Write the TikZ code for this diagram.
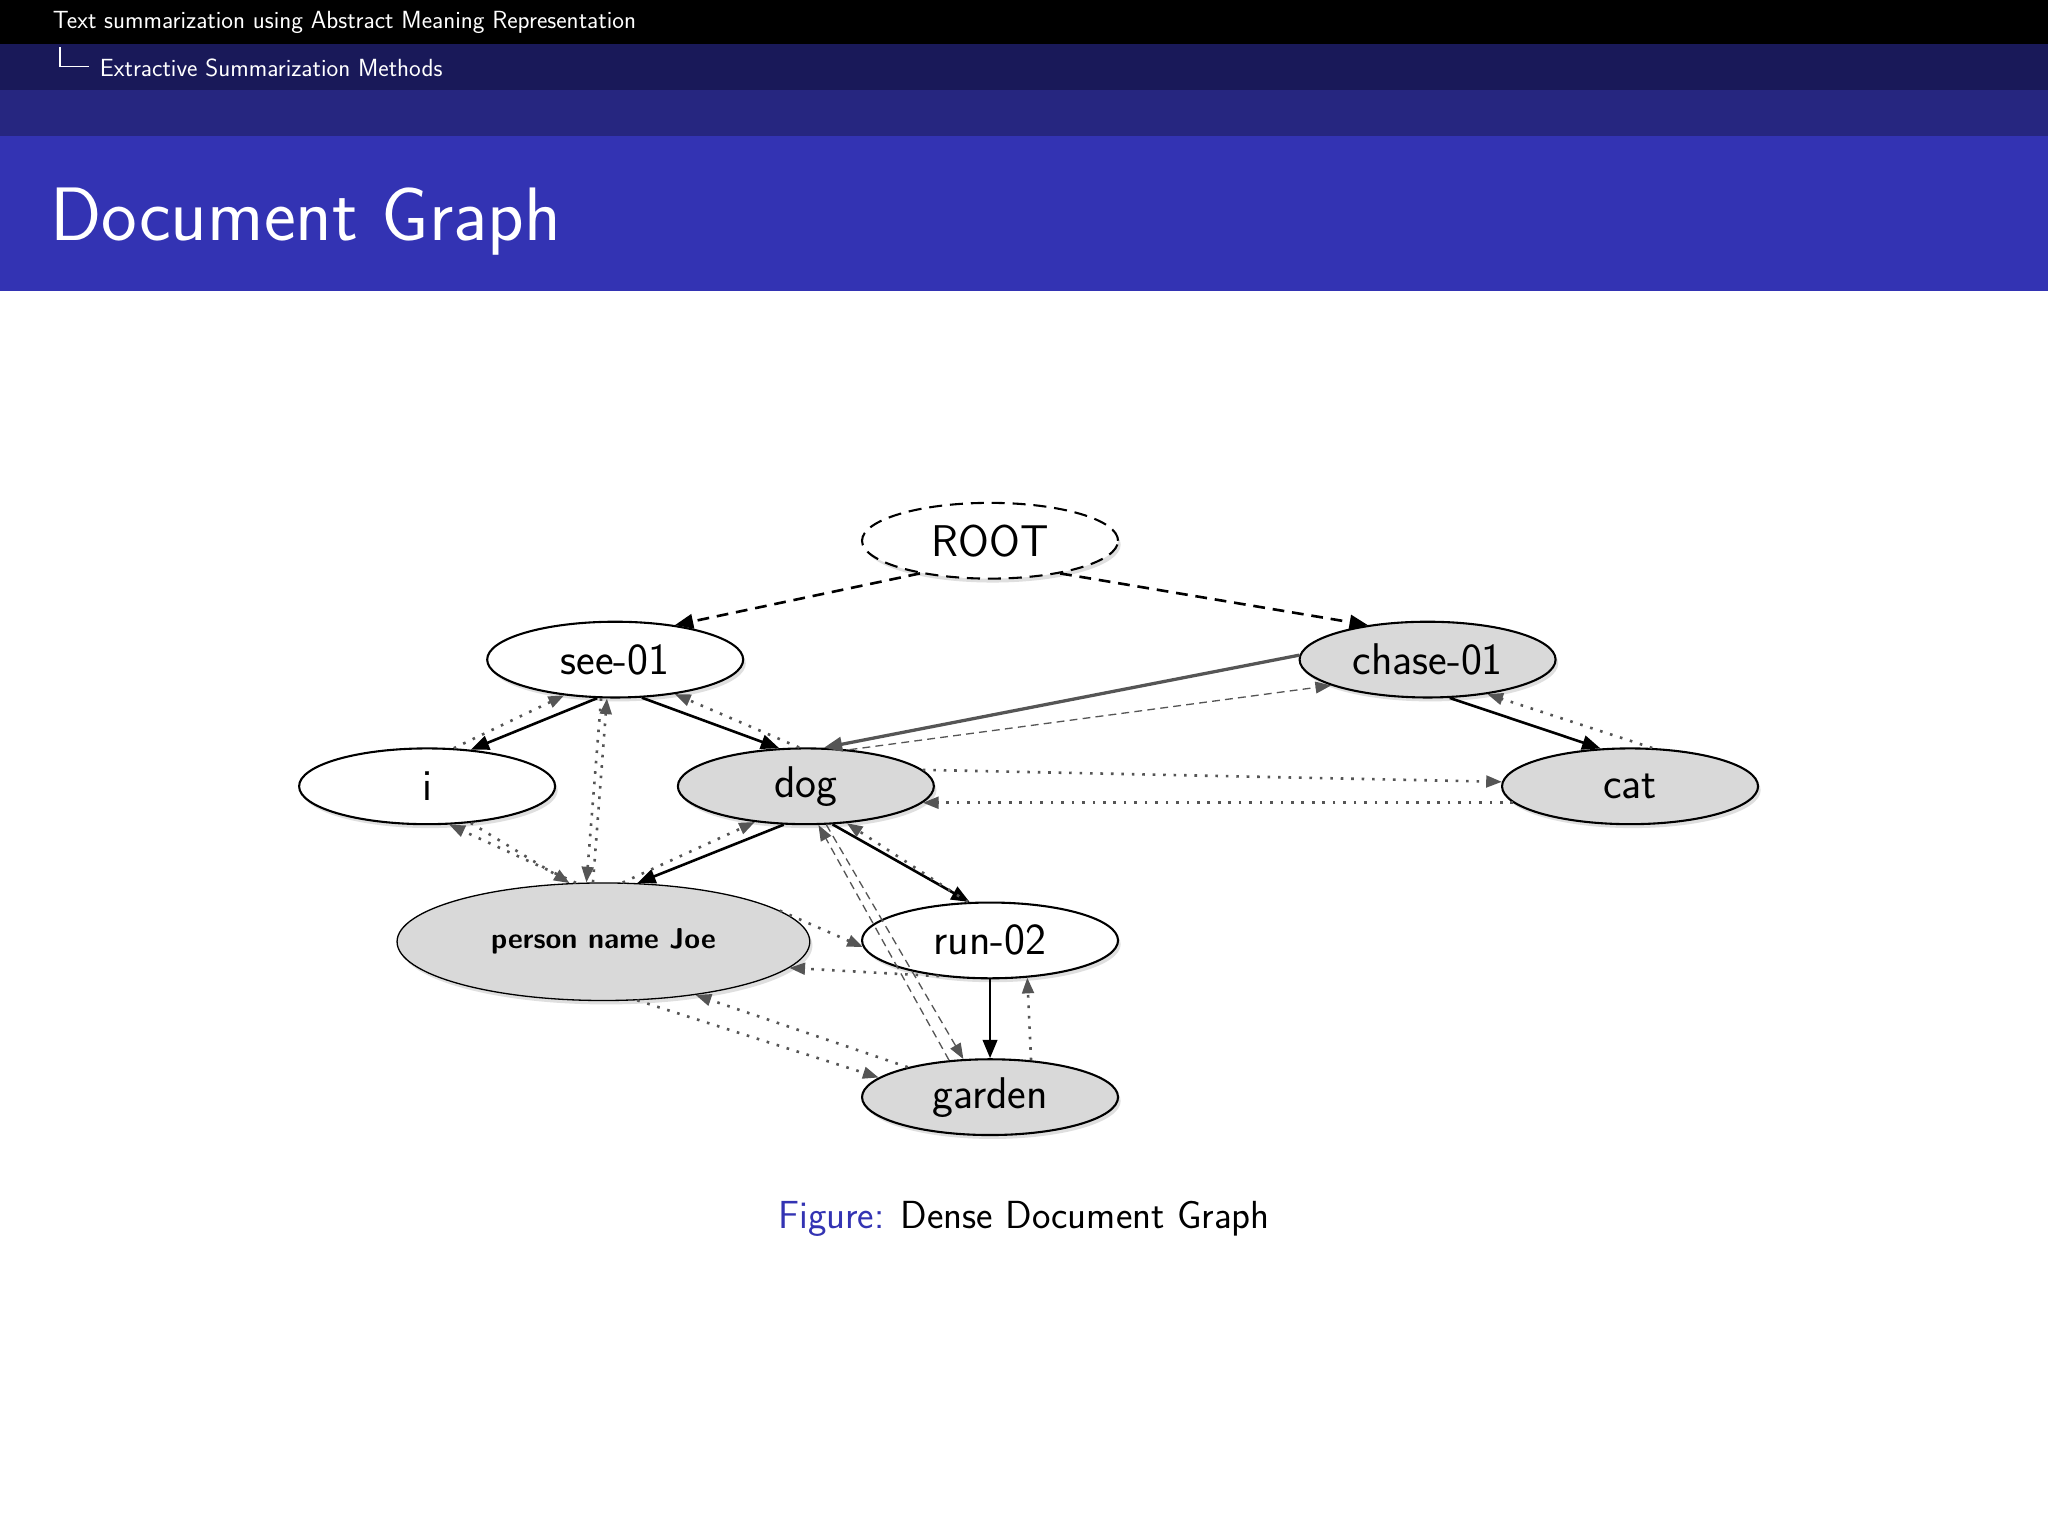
\documentclass[tikz,border=0pt]{standalone}
\usetikzlibrary{shapes.geometric,arrows.meta,shadows}
\definecolor{bartop}{HTML}{000000}
\definecolor{barsec}{HTML}{191959}
\definecolor{barthr}{HTML}{262680}
\definecolor{bartitle}{HTML}{3333B3}
\definecolor{nodegray}{HTML}{D9D9D9}
\definecolor{edgegray}{HTML}{555555}
\begin{document}
\begin{tikzpicture}[x=1pt,y=-1pt,font=\sffamily,
  nd/.style={ellipse,draw=black,line width=1.6pt,minimum width=196pt,minimum height=58pt,inner sep=0pt,
    drop shadow={shadow xshift=2pt,shadow yshift=-3pt,opacity=0.25},font=\sffamily\fontsize{34}{40}\selectfont},
  gnd/.style={nd,fill=nodegray},
  wnd/.style={nd,fill=white},
  solidarr/.style={-{Triangle[length=14pt,width=11pt]},line width=2pt,black},
  dasharr/.style={-{Triangle[length=14pt,width=11pt]},line width=2pt,black,dash pattern=on 9pt off 6pt},
  thinarr/.style={-{Triangle[length=12pt,width=9pt]},line width=1pt,edgegray,dash pattern=on 6pt off 4pt},
  dotarr/.style={-{Triangle[length=12pt,width=9pt]},line width=2pt,edgegray,dash pattern=on 2pt off 6pt}]
\useasboundingbox (0,0) rectangle (1568,1176);
\fill[white] (0,0) rectangle (1568,1176);
\fill[bartop] (0,0) rectangle (1568,34);
\fill[barsec] (0,34) rectangle (1568,69);
\fill[barthr] (0,69) rectangle (1568,104);
\fill[bartitle] (0,104) rectangle (1568,223);
\node[anchor=west,text=white,font=\sffamily\fontsize{19}{22}\selectfont] (h1) at (37,17) {Text summarization using Abstract Meaning Representation};
\node[anchor=west,text=white,font=\sffamily\fontsize{19}{22}\selectfont] (h2) at (73,52) {Extractive Summarization Methods};
\draw[white,line width=1pt] (46,36) -- (46,51) -- (68,51);
\node[anchor=west,text=white,font=\sffamily\fontsize{58}{66}\selectfont] (title) at (35,170) {Document Graph};

\node[wnd,dash pattern=on 10pt off 6pt] (root) at (758,414) {ROOT};
\node[wnd] (see) at (471,505) {see-01};
\node[gnd] (chase) at (1093,505) {chase-01};
\node[wnd] (i) at (327,602) {i};
\node[gnd] (dog) at (617,602) {dog};
\node[gnd] (cat) at (1248,602) {cat};
\node[gnd,minimum width=316pt,minimum height=90pt,line width=1pt,font=\sffamily\bfseries\fontsize{22}{26}\selectfont] (joe) at (462,721) {person name Joe};
\node[wnd] (run) at (758,720) {run-02};
\node[gnd] (garden) at (758,840) {garden};

\draw[dasharr] (root.205) -- (see.30);
\draw[dasharr] (root.335) -- (chase.150);
\draw[solidarr] (see.245) -- (i.40);
\draw[solidarr] (see.305) -- (dog.125);
\draw[solidarr] (dog.240) -- (joe.60);
\draw[solidarr] (dog.305) -- (run.118);
\draw[solidarr] (run.270) -- (garden.90);
\draw[solidarr] (chase.300) -- (cat.128);
\draw[-{Triangle[length=14pt,width=11pt]},line width=2.5pt,edgegray] (chase.178) -- (dog.65);
\draw[thinarr] (dog.40) -- (chase.195);
\draw[thinarr] (garden.138) -- (dog.288);
\draw[thinarr] (dog.298) -- (garden.125);
\draw[dotarr] (i.55) -- (see.215);
\draw[dotarr] (dog.100) -- (see.330);
\draw[dotarr] (joe.100) -- (see.258);
\draw[dotarr] (see.250) -- (joe.106);
\draw[dotarr] (joe.115) -- (i.300);
\draw[dotarr] (i.320) -- (joe.120);
\draw[dotarr] (joe.72) -- (dog.215);
\draw[dotarr] (dog.8) -- (cat.178);
\draw[dotarr] (cat.188) -- (dog.352);
\draw[dotarr] (cat.60) -- (chase.330);
\draw[dotarr] (run.120) -- (dog.318);
\draw[dotarr] (joe.10) -- (run.183);
\draw[dotarr] (run.215) -- (joe.352);
\draw[dotarr] (garden.160) -- (joe.330);
\draw[dotarr] (joe.300) -- (garden.170);
\draw[dotarr] (garden.42) -- (run.315);

\node[font=\sffamily\fontsize{30}{36}\selectfont] (cap) at (784,933) {\textcolor{bartitle}{Figure:} Dense Document Graph};
\end{tikzpicture}
\end{document}
